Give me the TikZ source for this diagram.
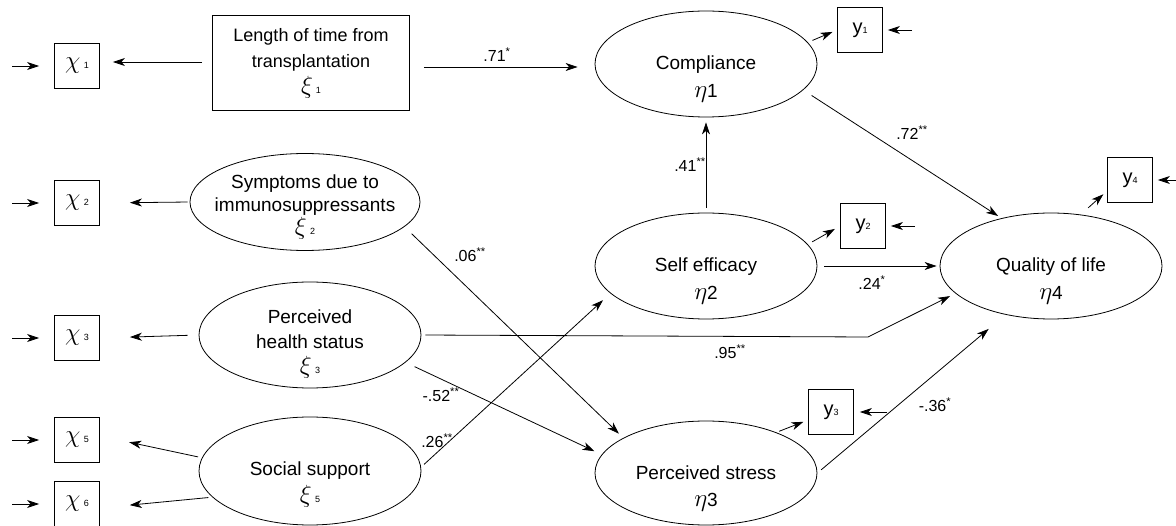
\documentclass[tikz,border=0pt]{standalone}
\usepackage{fontspec}
\setmainfont{Liberation Sans}
\usetikzlibrary{shapes.geometric,arrows.meta}
\newcommand{\smallsub}[1]{{\fontsize{9}{9}\selectfont #1}}
\newcommand{\gxi}{{\fontsize{26}{26}\selectfont$\xi$}}
\newcommand{\geta}{{\fontsize{23}{23}\selectfont$\eta$}}
\newcommand{\gchi}{{\fontsize{23}{23}\selectfont$\chi$}}

\begin{document}
\begin{tikzpicture}[x=1pt, y=-1pt, line width=0.8pt,
    latent/.style = {draw, ellipse, minimum width=222pt, minimum height=106pt, inner xsep=0pt, inner ysep=-10pt, align=center, font=\fontsize{19}{28}\selectfont, text height=68pt, text depth=0pt},
    obsbox/.style = {draw, rectangle, minimum size=45pt, inner sep=0pt, font=\fontsize{20}{20}\selectfont},
    arr/.style = {-{Stealth[length=12pt,width=8pt,inset=3.5pt]}},
    coef/.style = {font=\fontsize{16}{16}\selectfont, inner sep=1pt}]
    \useasboundingbox (0,0) rectangle (1176,526);

    \node[obsbox] (x1) at (77,66) {\gchi\,\smallsub{1}};
    \node[obsbox] (x2) at (77,203) {\gchi\,\smallsub{2}};
    \node[obsbox] (x3) at (77,338) {\gchi\,\smallsub{3}};
    \node[obsbox] (x5) at (77,440) {\gchi\,\smallsub{5}};
    \node[obsbox] (x6) at (77,504) {\gchi\,\smallsub{6}};

    \node[draw, rectangle, minimum width=197pt, minimum height=95pt, inner sep=0pt, align=center, font=\fontsize{18}{26}\selectfont] (time) at (311,63) {Length of time from\\transplantation\\\gxi\,\smallsub{1}};
    \node[latent, minimum width=230pt, minimum height=97pt, inner xsep=-10pt, font=\fontsize{19}{23}\selectfont, text height=66pt] (sym) at (305,202) {Symptoms due to\\immunosuppressants\\\gxi\,\smallsub{2}};
    \node[latent, font=\fontsize{19}{25}\selectfont, text height=78pt] (hs) at (310,335) {Perceived\\health status\\\gxi\,\smallsub{3}};
    \node[latent, minimum height=108pt, text height=64pt] (ss) at (310,471) {Social support\\\gxi\,\smallsub{5}};

    \node[latent] (comp) at (706,64) {Compliance\\\geta1};
    \node[latent] (se) at (706,266) {Self efficacy\\\geta2};
    \node[latent, minimum height=104pt] (ps) at (706,473) {Perceived stress\\\geta3};
    \node[latent] (qol) at (1051,266) {Quality of life\\\geta4};

    \node[obsbox] (y1) at (860,30) {y\smallsub{1}};
    \node[obsbox] (y2) at (863,226) {y\smallsub{2}};
    \node[obsbox] (y3) at (831,412) {y\smallsub{3}};
    \node[obsbox] (y4) at (1130,180) {y\smallsub{4}};

    \coordinate (ex1) at (12,66);
    \coordinate (ex2) at (12,203);
    \coordinate (ex3) at (12,338);
    \coordinate (ex5) at (12,440);
    \coordinate (ex6) at (12,504);
    \coordinate (ey1) at (912,30);
    \coordinate (ey2) at (915,226);
    \coordinate (ey3) at (887,412);
    \coordinate (ey4) at (1176,180);
    \coordinate (bend) at (868,337);

    \draw[arr, shorten >=15pt] (ex1) -- (x1);
    \draw[arr, shorten >=15pt] (ex2) -- (x2);
    \draw[arr, shorten >=15pt] (ex3) -- (x3);
    \draw[arr, shorten >=15pt] (ex5) -- (x5);
    \draw[arr, shorten >=15pt] (ex6) -- (x6);

    \draw[arr, shorten <=10pt, shorten >=13pt] ([yshift=1pt]time.west) -- ([yshift=4pt]x1.east);
    \draw[arr, shorten <=2pt, shorten >=30pt] (sym.west) -- (x2.east);
    \draw[arr, shorten <=11pt, shorten >=30pt] (hs.west) -- (x3.east);
    \draw[arr, shorten <=4pt, shorten >=30pt] (ss.173) -- ([yshift=4pt]x5.east);
    \draw[arr, shorten <=4pt, shorten >=30pt] (ss.195) -- ([yshift=-4pt]x6.east);

    \draw[arr, shorten <=14pt, shorten >=17pt] ([yshift=-4pt]time.east) -- ([yshift=-3pt]comp.west);
    \draw[arr, shorten <=5pt, shorten >=5pt] (se.north) -- (comp.south);
    \draw[arr, shorten <=10pt, shorten >=4pt] (comp.345) -- (qol.136);
    \draw[arr, shorten <=7pt, shorten >=3pt] (se.east) -- (qol.west);
    \draw[arr, shorten <=4pt, shorten >=6pt] (hs.east) -- (bend) -- (qol.196);
    \draw[arr, shorten <=5pt, shorten >=22pt] (ps.east) -- (qol.227);
    \draw[arr, shorten <=10pt, shorten >=6pt] (sym.346) -- (ps.157);
    \draw[arr, shorten <=10pt, shorten >=8pt] (hs.344) -- (ps.170);
    \draw[arr, shorten <=4pt, shorten >=10pt] (ss.2) -- (se.196);

    \draw[arr, shorten <=5pt, shorten >=5pt] (comp.12) -- (y1.west);
    \draw[arr, shorten <=5pt, shorten >=6pt] (se.12) -- (y2.west);
    \draw[arr, shorten <=3pt, shorten >=5pt] (ps.30) -- ([yshift=-8pt]y3.west);
    \draw[arr, shorten <=10pt, shorten >=5pt] (qol.60) -- ([yshift=12pt]y4.south west);

    \draw[arr, shorten >=5pt] (ey1) -- (y1);
    \draw[arr, shorten >=5pt] (ey2) -- (y2);
    \draw[arr, shorten >=6pt] (ey3) -- (y3);
    \draw[arr, shorten >=5pt] (ey4) -- (y4);

    \node[coef] (c71) at (497,55) {.71\textsuperscript{*}};
    \node[coef] (c41) at (690,165) {.41\textsuperscript{**}};
    \node[coef] (c72) at (912,133) {.72\textsuperscript{**}};
    \node[coef] (c24) at (872,283) {.24\textsuperscript{*}};
    \node[coef] (c95) at (730,352) {.95\textsuperscript{**}};
    \node[coef] (c06) at (470,255) {.06\textsuperscript{**}};
    \node[coef] (c52) at (441,395) {-.52\textsuperscript{**}};
    \node[coef] (c26) at (437,441) {.26\textsuperscript{**}};
    \node[coef] (c36) at (935,405) {-.36\textsuperscript{*}};
\end{tikzpicture}
\end{document}
